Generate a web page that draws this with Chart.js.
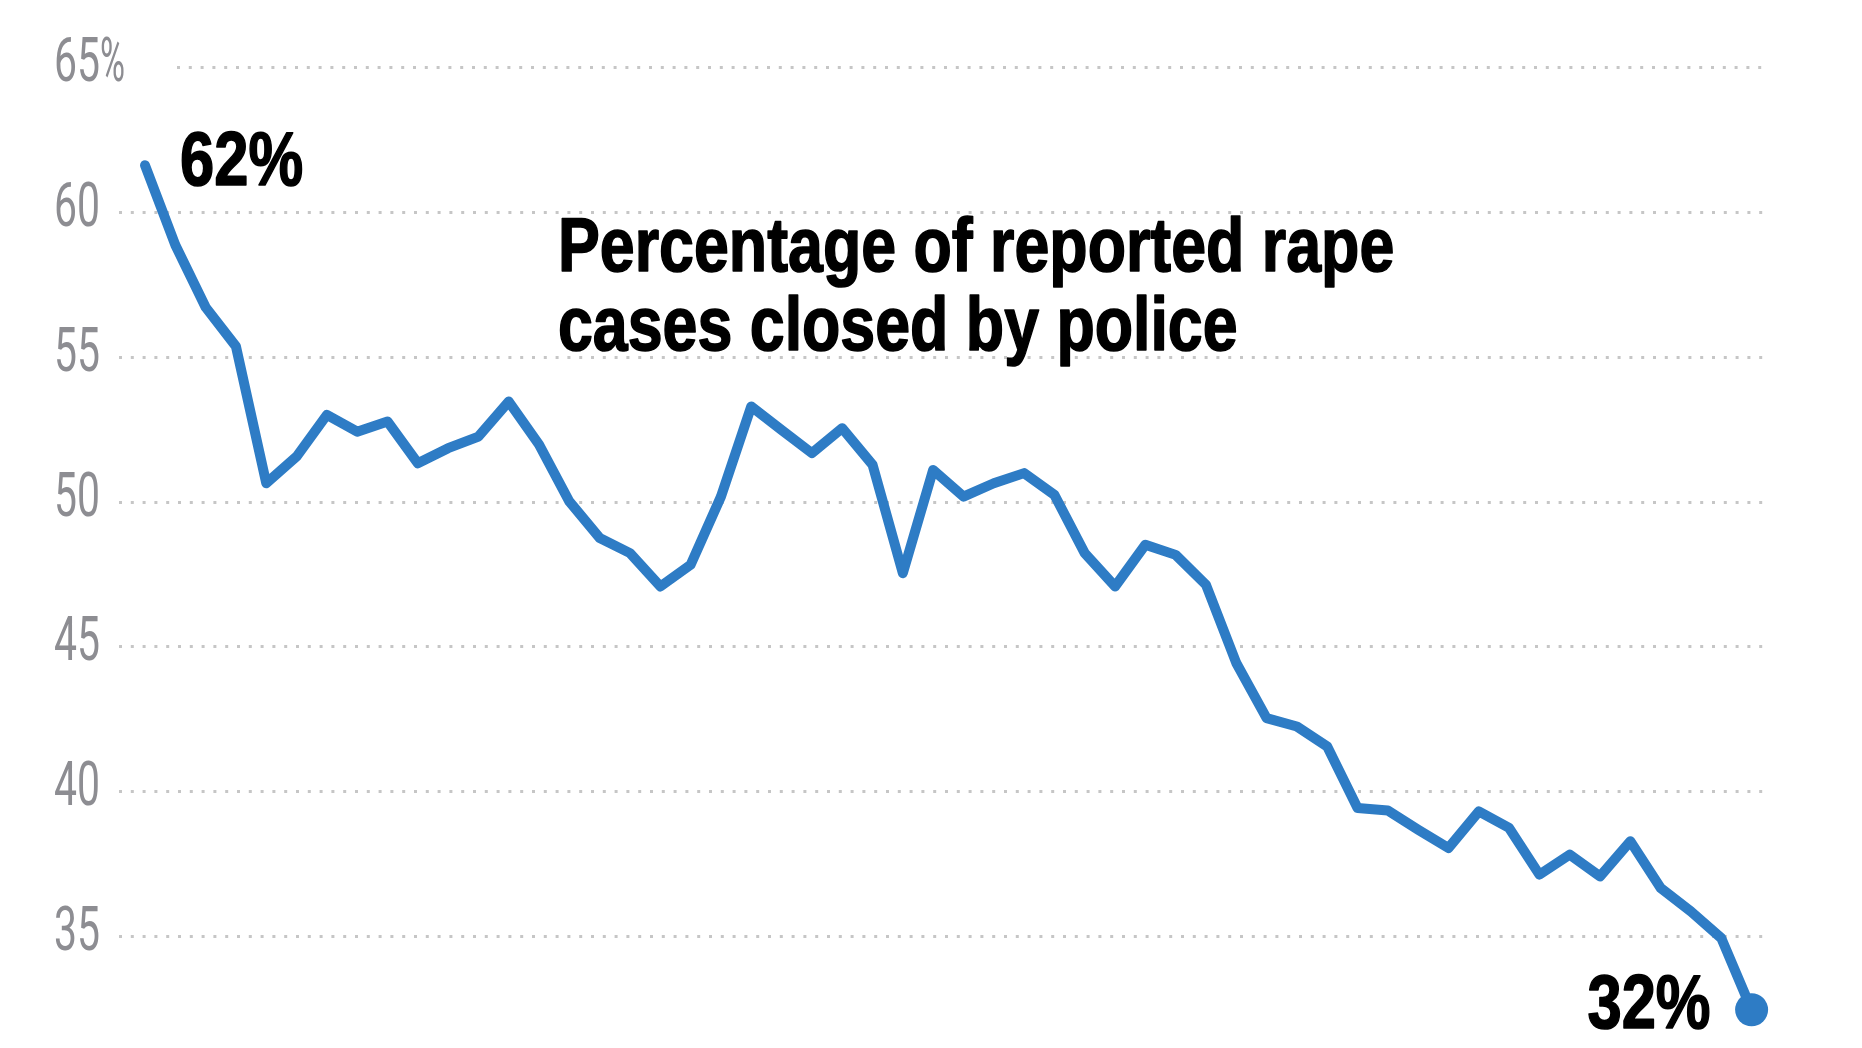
<!DOCTYPE html>
<html>
<head>
<meta charset="utf-8">
<title>Rape cases closed by police</title>
<script src="https://cdn.jsdelivr.net/npm/chart.js@4.4.0/dist/chart.umd.min.js"></script>
<style>
    html, body { margin: 0; padding: 0; background: #fff; }
    #wrap { position: relative; width: 1862px; height: 1048px; }
</style>
</head>
<body>
<div id="wrap"><canvas id="clearanceChart"></canvas></div>
<script>
// Data
const years = [1964, 1965, 1966, 1967, 1968, 1969, 1970, 1971, 1972, 1973,
               1974, 1975, 1976, 1977, 1978, 1979, 1980, 1981, 1982, 1983,
               1984, 1985, 1986, 1987, 1988, 1989, 1990, 1991, 1992, 1993,
               1994, 1995, 1996, 1997, 1998, 1999, 2000, 2001, 2002, 2003,
               2004, 2005, 2006, 2007, 2008, 2009, 2010, 2011, 2012, 2013,
               2014, 2015, 2016, 2017];
const clearanceRate = [61.6, 58.85, 56.7, 55.35, 50.63, 51.55, 52.99, 52.41, 52.76, 51.32,
                       51.84, 52.24, 53.45, 51.96, 50.0, 48.74, 48.22, 47.07, 47.82, 50.17,
                       53.28, 52.47, 51.67, 52.53, 51.27, 47.53, 51.09, 50.17, 50.63, 50.98,
                       50.23, 48.22, 47.07, 48.51, 48.16, 47.13, 44.43, 42.53, 42.24, 41.55,
                       39.43, 39.34, 38.68, 38.05, 39.31, 38.74, 37.13, 37.82, 37.07, 38.28,
                       36.67, 35.86, 34.94, 32.47];
const yTicks = [35, 40, 45, 50, 55, 60, 65];
const titleLines = ['Percentage of reported rape', 'cases closed by police'];
const firstLabel = '62%';
const lastLabel = '32%';

const lineBlue = '#2e7cc5';
const gridGray = '#c6c6c6';
const tickGray = '#8d8d92';

// no condensed face is installed, so squeeze a regular one
function squeezedText(ctx, text, x, y, sx, align, heavy) {
    ctx.save();
    ctx.translate(x, y);
    ctx.scale(sx, 1);
    ctx.textAlign = align;
    if (heavy) {
        // a thin stroke to get closer to the heavier original face
        ctx.lineWidth = heavy;
        ctx.lineJoin = 'round';
        ctx.strokeStyle = ctx.fillStyle;
        ctx.strokeText(text, 0, 0);
    }
    ctx.fillText(text, 0, 0);
    ctx.restore();
}

// dotted grid + y labels, drawn under the line
const gridPlugin = {
    id: 'dottedGrid',
    beforeDatasetsDraw(chart) {
        const ctx = chart.ctx;
        const y = chart.scales.y;
        const right = 1768;
        ctx.save();
        yTicks.forEach(v => {
            const py = Math.round(y.getPixelForValue(v)) + 0.5;
            const isTop = v === yTicks[yTicks.length - 1];
            ctx.beginPath();
            ctx.setLineDash([3, 8.8]);
            ctx.lineWidth = 3;
            ctx.strokeStyle = gridGray;
            ctx.moveTo(isTop ? 177 : 119, py);
            ctx.lineTo(right, py);
            ctx.stroke();

            ctx.setLineDash([]);
            ctx.fillStyle = tickGray;
            ctx.font = '400 62px Roboto, "Liberation Sans", sans-serif';
            ctx.textBaseline = 'alphabetic';
            squeezedText(ctx, String(v), 100, py + 13, 0.66, 'right');
            if (isTop) squeezedText(ctx, '%', 100, py + 13, 0.55, 'left');
        });
        ctx.restore();
    }
};

// title and end labels
const notesPlugin = {
    id: 'notes',
    afterDatasetsDraw(chart) {
        const ctx = chart.ctx;
        const meta = chart.getDatasetMeta(0);
        const first = meta.data[0];
        const last = meta.data[meta.data.length - 1];
        ctx.save();
        ctx.fillStyle = '#000';
        ctx.font = 'bold 76px "Liberation Sans", Arial, sans-serif';
        ctx.textBaseline = 'alphabetic';

        squeezedText(ctx, firstLabel, first.x + 35, first.y + 20, 0.81, 'left', 1.6);
        squeezedText(ctx, lastLabel, last.x - 41, last.y + 18, 0.81, 'right', 1.6);
        squeezedText(ctx, titleLines[0], 558, 271, 0.825, 'left', 1.6);
        squeezedText(ctx, titleLines[1], 558, 350, 0.825, 'left', 1.6);
        ctx.restore();
    }
};

document.addEventListener('DOMContentLoaded', function() {
    const canvas = document.getElementById('clearanceChart');
    const lastIdx = clearanceRate.length - 1;

    new Chart(canvas, {
        type: 'line',
        data: {
            labels: years,
            datasets: [{
                data: clearanceRate,
                borderColor: lineBlue,
                backgroundColor: lineBlue,
                borderWidth: 10,
                borderJoinStyle: 'round',
                borderCapStyle: 'round',
                tension: 0,
                fill: false,
                pointRadius: clearanceRate.map((v, i) => i === lastIdx ? 16.5 : 0),
                pointBackgroundColor: lineBlue,
                pointBorderWidth: 0,
                pointHoverRadius: 0,
                clip: false
            }]
        },
        options: {
            responsive: true,
            maintainAspectRatio: false,
            animation: false,
            events: [],
            layout: {
                autoPadding: false,
                padding: { left: 145, right: 110.4, top: 0, bottom: 0 }
            },
            scales: {
                x: { display: false, offset: false },
                y: { display: false, min: 31.15, max: 67.3 }
            },
            plugins: {
                legend: { display: false },
                tooltip: { enabled: false }
            }
        },
        plugins: [gridPlugin, notesPlugin]
    });
});
</script>
</body>
</html>
